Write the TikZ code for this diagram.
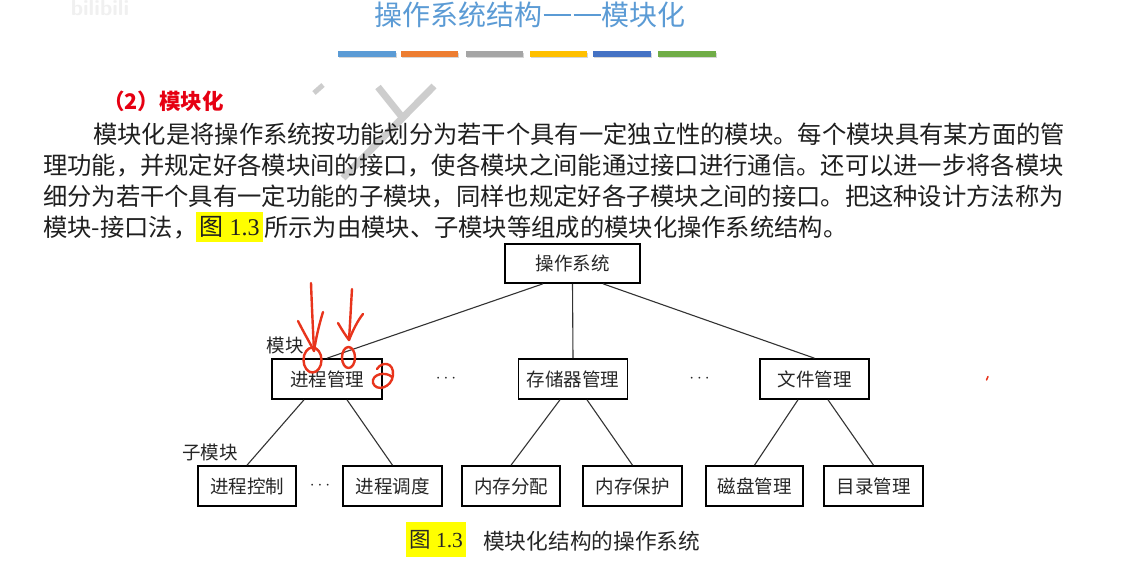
\documentclass[tikz,border=0pt]{standalone}
\usepackage{fontspec}
\setmainfont{Liberation Serif}
\newfontfamily\cjk{Noto Sans CJK SC}
\usetikzlibrary{calc}
\definecolor{tblue}{HTML}{5B9BD5}
\definecolor{borange}{HTML}{ED7D31}
\definecolor{bgray}{HTML}{A5A5A5}
\definecolor{byellow}{HTML}{FFC000}
\definecolor{bdblue}{HTML}{4472C4}
\definecolor{bgreen}{HTML}{70AD47}
\definecolor{hl}{HTML}{FFFF00}
\definecolor{pen}{HTML}{E8341C}
\definecolor{wm}{HTML}{CDCDCD}
\definecolor{headred}{HTML}{E60012}
\begin{document}
\begin{tikzpicture}[x=1pt,y=-1pt,
  box/.style={draw=black, line width=1.6pt, inner sep=0pt, minimum height=40pt,
    font=\cjk\fontsize{18.5}{20}\selectfont, text=black!85},
  link/.style={draw=black!80, line width=1.1pt},
  para/.style={anchor=base west, inner sep=0pt, font=\cjk\fontsize{24.3}{26}\selectfont, text=black!88},
  lbl/.style={inner sep=0pt, font=\cjk\fontsize{18.5}{20}\selectfont, text=black!85},
  dotsnode/.style={inner sep=0pt, font=\fontsize{18}{20}\selectfont, text=black!85},
  hlbox/.style={fill=hl, inner sep=0pt},
  barshadow/.style={fill=black!35, opacity=0.45},
  redpen/.style={draw=pen, line width=2.4pt, line cap=round, line join=round},
  wmark/.style={draw=wm, line width=7pt}
]
\useasboundingbox[fill=white] (0,0) rectangle (1125,584);

% faint logo and watermark
\node[text=black!6, font=\sffamily\bfseries\fontsize{22}{24}\selectfont] (logo) at (100,8) {bilibili};
\draw[wmark, line width=5pt] (314,93) -- (323,85);
\draw[wmark] (378,87) -- (402,117);
\draw[wmark] (434,86) -- (343,178);

% title
\node[inner sep=0pt, font=\cjk\fontsize{28}{30}\selectfont, text=tblue] (title) at (530,15) {操作系统结构\kern1pt\rule[9.5pt]{27pt}{1.8pt}\kern3pt\rule[9.5pt]{27pt}{1.8pt}\kern1pt 模块化};

% colour bars
\foreach \xa/\xb/\c in {338/396/tblue, 401/458/borange, 466/523/bgray, 530/587/byellow, 593/651/bdblue, 658/716/bgreen}{
  \fill[barshadow] (\xa+1,52.5) rectangle (\xb+1,58);
  \fill[\c] (\xa,51) rectangle (\xb,56.5);
}

% heading and paragraph
\node[anchor=base west, inner sep=0pt, font=\cjk\bfseries\fontsize{21.5}{24}\selectfont, text=headred] (head) at (103,109.9) {（2）模块化};
\node[para] (l1) at (93,143.7) {模块化是将操作系统按功能划分为若干个具有一定独立性的模块。每个模块具有某方面的管};
\node[para] (l2) at (43,174.2) {理功能，并规定好各模块间的接口，使各模块之间能通过接口进行通信。还可以进一步将各模块};
\node[para] (l3) at (43,205.7) {细分为若干个具有一定功能的子模块，同样也规定好各子模块之间的接口。把这种设计方法称为};
\node[para] (l4a) at (43,236.2) {模块-接口法，};
\node[hlbox, minimum width=67pt, minimum height=30pt] (hl1) at (229.5,227) {};
\node[inner sep=0pt, font=\fontsize{24}{26}\selectfont, text=black!88] (fig1) at (229.5,227) {{\cjk 图} 1.3};
\node[para] (l4b) at (264,236.2) {所示为由模块、子模块等组成的模块化操作系统结构。};

% diagram nodes
\node[box, minimum width=135pt, minimum height=39pt] (os) at (572.5,263.5) {操作系统};
\node[box, minimum width=110pt] (pm) at (327,379) {进程管理};
\node[box, minimum width=109pt] (mm) at (573,379) {存储器管理};
\node[box, minimum width=109pt] (fm) at (814.5,379) {文件管理};
\node[box, minimum width=98pt] (c1) at (247,486) {进程控制};
\node[box, minimum width=99pt] (c2) at (392.5,486) {进程调度};
\node[box, minimum width=98pt] (c3) at (511,486) {内存分配};
\node[box, minimum width=99pt] (c4) at (632.5,486) {内存保护};
\node[box, minimum width=97pt] (c5) at (754.5,486) {磁盘管理};
\node[box, minimum width=99pt] (c6) at (873.5,486) {目录管理};

\node[dotsnode] (d1) at (446,379) {$\cdots$};
\node[dotsnode] (d2) at (699.5,379) {$\cdots$};
\node[dotsnode] (d3) at (320,486) {$\cdots$};

\node[lbl] (lblmod) at (285,345) {模块};
\node[lbl] (lblsub) at (210,452) {子模块};

% connectors
\draw[link] ($(os.south)+(-29.5,0)$) -- (pm.north);
\draw[link] (os.south) -- (mm.north);
\draw[link] ($(os.south)+(30.5,0)$) -- (fm.north);
\draw[link] ($(pm.south)+(-23,0)$) -- (c1.north);
\draw[link] ($(pm.south)+(20,0)$) -- (c2.north);
\draw[link] ($(mm.south)+(-13,0)$) -- (c3.north);
\draw[link] ($(mm.south)+(14,0)$) -- (c4.north);
\draw[link] ($(fm.south)+(-16.5,0)$) -- (c5.north);
\draw[link] ($(fm.south)+(13.5,0)$) -- (c6.north);

% caption
\node[hlbox, minimum width=60pt, minimum height=35pt] (hl2) at (436,539.5) {};
\node[inner sep=0pt, font=\fontsize{21.5}{24}\selectfont, text=black!85] (fig2) at (436,539.5) {{\cjk 图} 1.3};
\node[anchor=base west, inner sep=0pt, font=\cjk\fontsize{21.7}{24}\selectfont, text=black!85] (cap) at (483,549.2) {模块化结构的操作系统};

% red handwritten marks
\draw[redpen] (311,283) .. controls (312,310) and (313,330) .. (314,351);
\draw[redpen] (298,321) .. controls (304,333) and (310,343) .. (314,351) .. controls (316,338) and (319,325) .. (323,312);
\draw[redpen] (312.5,360) ellipse [x radius=9, y radius=12.5];
\draw[redpen] (352,289) .. controls (351,305) and (350,325) .. (349,340);
\draw[redpen] (338,323) .. controls (342,330) and (346,336) .. (349,340) .. controls (353,330) and (358,320) .. (363,314);
\draw[redpen] (348.5,357.5) ellipse [x radius=6.5, y radius=10.5];
\draw[redpen] (377,369) .. controls (382,361) and (394,362) .. (393,375) .. controls (392,388) and (376,392) .. (373,383) .. controls (371,374) and (386,371) .. (392,377);
\draw[draw=pen, line width=1.5pt, line cap=round] (986.5,380) -- (988,376.5);
\end{tikzpicture}
\end{document}
